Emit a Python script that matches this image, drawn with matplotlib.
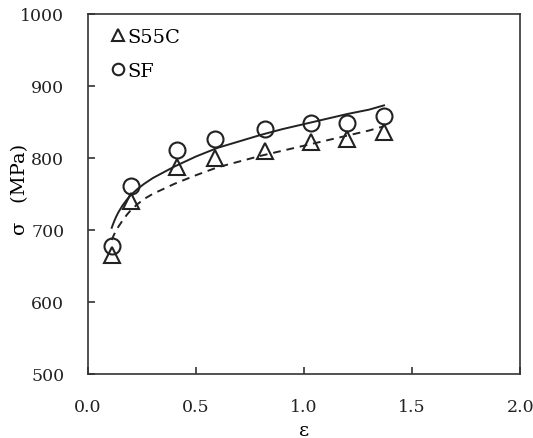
import matplotlib
matplotlib.use('Agg')
import matplotlib.pyplot as plt

# measured points
eps_s55c = [0.11, 0.20, 0.41, 0.59, 0.82, 1.03, 1.20, 1.37]
sig_s55c = [665, 740, 787, 800, 810, 822, 826, 836]
eps_sf = [0.11, 0.20, 0.41, 0.59, 0.82, 1.03, 1.20, 1.37]
sig_sf = [677, 761, 811, 826, 840, 848, 848, 858]

# fitted curves
fit_eps = [0.11, 0.12, 0.13, 0.14, 0.16, 0.18, 0.20, 0.23, 0.26, 0.30, 0.35, 0.40,
           0.45, 0.50, 0.60, 0.70, 0.80, 0.90, 1.00, 1.10, 1.20, 1.30, 1.37]
fit_sf = [703, 711, 718, 724, 734, 742, 749, 757, 764, 772, 780, 788,
          795, 802, 814, 823, 832, 840, 847, 854, 861, 867, 873]
fit_s55c = [686, 693, 699, 704, 713, 721, 728, 736, 743, 750, 757, 764,
            770, 776, 787, 795, 803, 810, 817, 824, 831, 838, 844]

plt.rcParams['font.family'] = ['DejaVu Serif']

fig = plt.figure(figsize=(5.33, 4.39), dpi=100)
ax = fig.add_axes([0.165, 0.146, 0.811, 0.82])

ink = '#222222'
ax.plot(fit_eps, fit_sf, color=ink, linestyle='-', linewidth=1.4)
ax.plot(fit_eps, fit_s55c, color=ink, linestyle=(0, (4, 3)), linewidth=1.4)
ax.plot(eps_s55c, sig_s55c, linestyle='none', marker='^', markersize=12,
        markerfacecolor='none', markeredgecolor=ink, markeredgewidth=1.5, label='S55C')
ax.plot(eps_sf, sig_sf, linestyle='none', marker='o', markersize=11.5,
        markerfacecolor='none', markeredgecolor=ink, markeredgewidth=1.5, label='SF')

ax.set_xlim(0, 2.0)
ax.set_ylim(500, 1000)
ax.set_xticks([0.0, 0.5, 1.0, 1.5, 2.0])
ax.set_xticklabels(['0.0', '0.5', '1.0', '1.5', '2.0'])
ax.set_yticks([500, 600, 700, 800, 900, 1000])
ax.tick_params(direction='in', length=5, width=1.1, labelsize=12.5, colors=ink, pad=17)
for s in ax.spines.values():
    s.set_linewidth(1.2)
    s.set_color('#333333')

ax.set_xlabel('ε', fontsize=14)
ax.set_ylabel('σ   (MPa)', fontsize=14)
ax.xaxis.set_label_coords(0.5, -0.13)
ax.yaxis.set_label_coords(-0.137, 0.514)

ax.legend(loc='upper left', frameon=False, fontsize=14, markerscale=0.72,
          handlelength=0.6, handletextpad=0.15, labelspacing=0.85,
          borderaxespad=0.3, bbox_to_anchor=(0.025, 1.0))

fig.savefig('out.png', dpi=100)
